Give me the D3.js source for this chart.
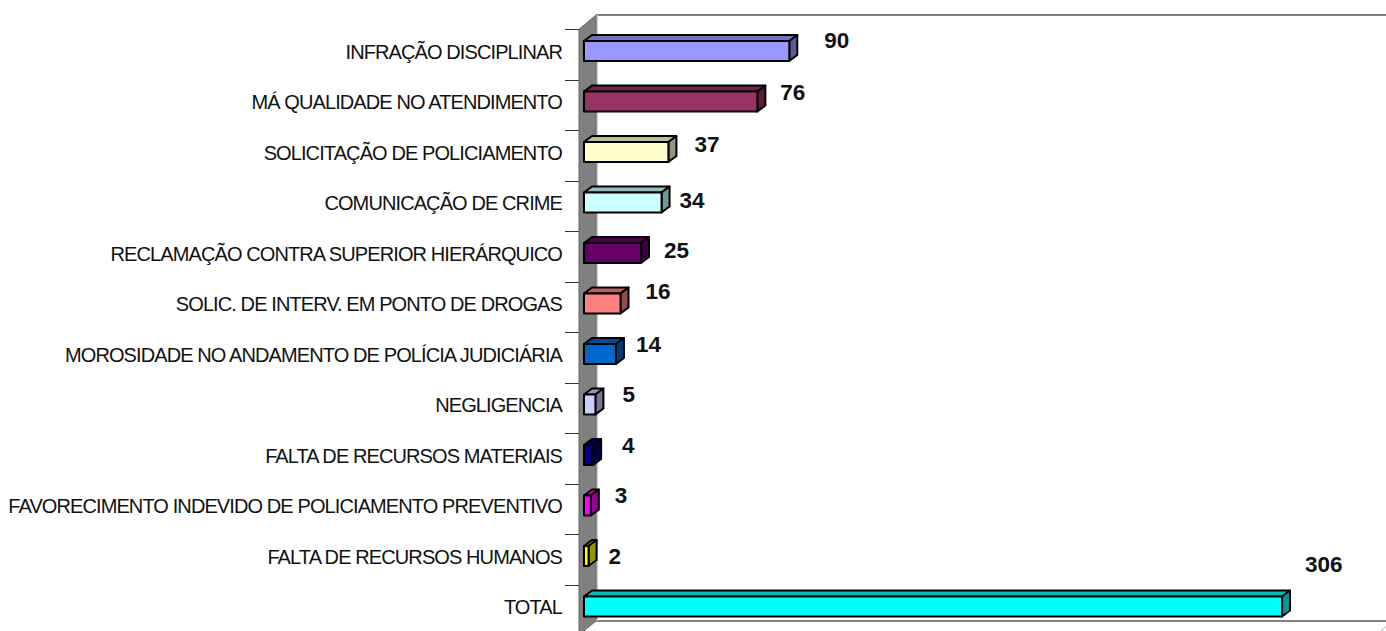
<!DOCTYPE html>
<html><head><meta charset="utf-8">
<script src="https://cdn.jsdelivr.net/npm/d3@7"></script>
<style>html,body{margin:0;padding:0;background:#fff;overflow:hidden}svg{display:block}</style>
</head><body><svg id="c" width="1386" height="631"></svg>
<script>
const categories = ["INFRAÇÃO DISCIPLINAR","MÁ QUALIDADE NO ATENDIMENTO","SOLICITAÇÃO DE POLICIAMENTO","COMUNICAÇÃO DE CRIME","RECLAMAÇÃO CONTRA SUPERIOR HIERÁRQUICO","SOLIC. DE INTERV. EM PONTO DE DROGAS","MOROSIDADE NO ANDAMENTO DE POLÍCIA JUDICIÁRIA","NEGLIGENCIA","FALTA DE RECURSOS MATERIAIS","FAVORECIMENTO INDEVIDO DE POLICIAMENTO PREVENTIVO","FALTA DE RECURSOS HUMANOS","TOTAL"];
const values = [90,76,37,34,25,16,14,5,4,3,2,306];
const colors = ["#9999FF","#993366","#FFFFCC","#CCFFFF","#660066","#FF8080","#0066CC","#CCCCFF","#000080","#FF00FF","#FFFF00","#00FFFF"];
const labelShiftX = [35,23,26,18,23,25,20,27,29,24,20,23];
const labelBaselines = [48,100,152,208,258,299,352,402,453,503,564,572];

const svg = d3.select("#c");
const x = d3.scaleLinear().domain([0,306]).range([584,1282]);
const y = d3.scaleBand().domain(categories).range([29.3,635.3]);
const dx = 8, dy = 6, barH = 20;
const wallL = 579, wallR = 596, backTop = 15, backBot = 621;

svg.append("path").attr("d",`M${wallR} ${backTop}H1386`).attr("stroke","#808080").attr("stroke-width",2).attr("fill","none");
svg.append("path").attr("d",`M${wallR} ${backBot}H1386`).attr("stroke","#808080").attr("stroke-width",2).attr("fill","none");
svg.append("path").attr("d",`M1393 ${backBot}L1376 635`).attr("stroke","#aaa").attr("fill","none");
svg.append("path").attr("d",`M${wallR+1} ${backTop}V${backBot}`).attr("stroke","#c8c8c8").attr("stroke-width",2).attr("fill","none");
svg.append("path").attr("d",`M${wallL} ${y.range()[0]}L${wallR} ${backTop}V${backBot}L${wallL} 635Z`).attr("fill","#808080").attr("stroke","#666").attr("stroke-width",1);

const axis = svg.append("g").attr("transform",`translate(${wallL},0)`).call(d3.axisLeft(y).tickSize(0).tickPadding(17));
axis.select(".domain").remove();
axis.selectAll(".tick").attr("transform",d=>`translate(0,${y(d)+y.bandwidth()/2-2})`);
axis.selectAll("text").attr("font-family","'Liberation Sans',Arial,sans-serif").attr("font-size",20).attr("fill","#111")
  .attr("letter-spacing","-0.9px");
svg.append("g").selectAll("line").data(categories).join("line")
  .attr("x1",565).attr("x2",wallL)
  .attr("y1",d=>Math.round(y(d))+.5).attr("y2",d=>Math.round(y(d))+.5)
  .attr("stroke","#333");

const bars = svg.append("g").selectAll("g").data(categories).join("g");
const barTop = d=>y(d)+y.bandwidth()/2-13.5;
function st(s){return s.attr("stroke","#000").attr("stroke-width",2).attr("stroke-linejoin","round");}
bars.each(function(d,i){
  const g=d3.select(this), x0=x(0), x1=x(values[i]), t=barTop(d), b=t+barH, c=d3.color(colors[i]);
  st(g.append("path").attr("d",`M${x0} ${t}L${x0+dx} ${t-dy}H${x1+dx}L${x1} ${t}Z`).attr("fill",c.darker(0.85)));
  st(g.append("path").attr("d",`M${x1} ${t}L${x1+dx} ${t-dy}V${b-dy}L${x1} ${b}Z`).attr("fill",c.darker(1.5)));
  st(g.append("rect").attr("x",x0).attr("y",t).attr("width",x1-x0).attr("height",barH).attr("fill",c));
});

svg.append("g").selectAll("text").data(values).join("text")
  .attr("x",(d,i)=>x(d)+labelShiftX[i]).attr("y",(d,i)=>labelBaselines[i])
  .attr("font-family","'Liberation Sans',Arial,sans-serif").attr("font-weight","bold").attr("font-size",22.5).attr("fill","#111")
  .text(d=>d);
</script></body></html>
